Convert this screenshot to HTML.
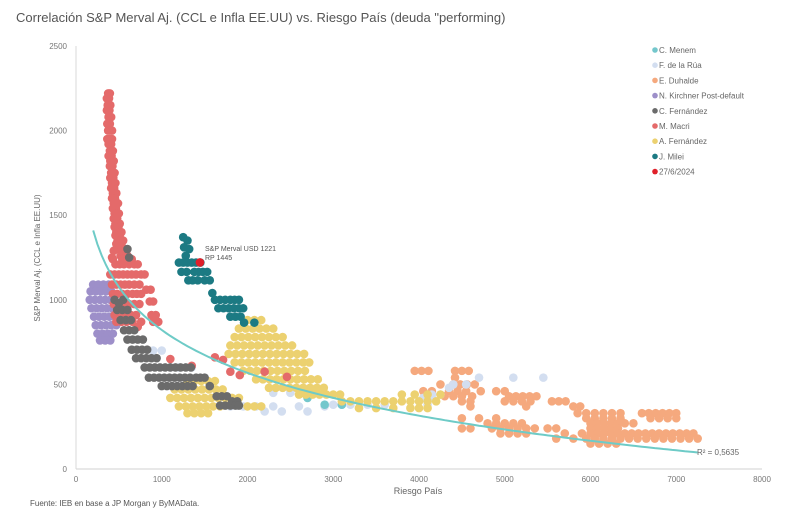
<!DOCTYPE html>
<html><head><meta charset="utf-8"><style>
body{margin:0;background:#fff;width:800px;height:518px;overflow:hidden;font-family:"Liberation Sans",sans-serif}
svg text{font-family:"Liberation Sans",sans-serif}
</style></head><body>
<svg id="chart" width="800" height="518">
<text x="16" y="22" font-size="13" fill="#555">Correlación S&amp;P Merval Aj. (CCL e Infla EE.UU) vs. Riesgo País (deuda "performing)</text>
<g id="axes"></g><g id="marks"></g><g id="legend"></g>
<text x="40" y="258" font-size="8" fill="#666" text-anchor="middle" transform="rotate(-90 40 258)">S&amp;P Merval Aj. (CCL e Infla EE.UU)</text>
<text x="418" y="494" font-size="9" fill="#666" text-anchor="middle">Riesgo País</text>
<text x="30" y="506" font-size="8" fill="#555">Fuente: IEB en base a JP Morgan y ByMAData.</text>
</svg>
<script>
const xTicks=[0,1000,2000,3000,4000,5000,6000,7000,8000];
const yTicks=[0,500,1000,1500,2000,2500];
const seriesNames=["C. Menem","F. de la Rúa","E. Duhalde","N. Kirchner Post-default","C. Fernández","M. Macri","A. Fernández","J. Milei","27/6/2024"];
const seriesColors=["#74c7cc","#d3def0","#f5a97e","#9d8fc9","#6b6b6b","#e46a6a","#ecd170","#1c7a83","#e0202a"];
// each row = [Merval, RP1, RP2, ...]
const menemRows=[[420,2700],[380,2900,3100]];
const delaruaRows=[[540,4700,5100,5450],[500,4400,4550],[480,4350],[440,4150,4250],[420,4050,4150],[380,3000,3100,3200,3400,3600,4100],[450,2300,2500,2700],[600,1100,1200,1350],[700,900,1000],[370,1800,1950,2100,2300,2600,2900],[340,2200,2400,2700]];
const duhaldeRows=[[580,3950,4030,4110,4420,4500,4580],[540,4420],[500,4250,4400,4480,4560,4650],[460,4050,4150,4350,4450,4550,4720,4900,5000],[430,4300,4400,4500,4620,5050,5130,5210,5290,5370],[400,4500,4600,5000,5100,5200,5300,5550,5630,5710],[370,4600,5250,5800,5880],[330,5850,5950,6050,6150,6250,6350,6600,6680,6760,6840,6920,7000],[300,4500,4700,4900,5950,6050,6150,6250,6350,6700,6800,6900,7000],[270,4800,4900,5000,5100,5200,6000,6080,6160,6240,6320,6400,6500],[240,4500,4600,4850,4950,5050,5150,5250,5350,5500,5600,6000,6080,6160,6240,6320],[210,4950,5050,5150,5250,5700,5900,6000,6080,6160,6240,6320,6400,6480,6560,6640,6720,6800,6880,6960,7040,7120,7200],[180,5600,5800,5950,6050,6150,6250,6350,6450,6550,6650,6750,6850,6950,7050,7150,7250],[150,6000,6100,6200,6300]];
const kirchnerRows=[[1090,200,260,320,380],[1050,170,230,290,350,410],[1000,160,220,280,340,400],[950,180,240,300,360,420],[900,210,270,330,390,450],[850,230,290,350,410,470],[800,250,310,370,430],[760,280,340,400]];
const macriRows=[[2220,375,395],[2190,385,360],[2150,370,400],[2120,390,360],[2080,380,410],[2040,395,365],[2000,375,400,420],[1950,390,420,365],[1920,410,380],[1880,395,430],[1850,415,380],[1820,400,440],[1790,425,395],[1750,410,450],[1720,435,400],[1690,420,460],[1660,445,410],[1630,430,470],[1600,455,420],[1570,440,490],[1540,465,430],[1510,450,500],[1480,480,440],[1450,460,510],[1430,495,450],[1400,470,530],[1380,510,460],[1350,485,550],[1330,530,470],[1300,500,570],[1290,550,440],[1260,520,600],[1250,575,420],[1240,430,540,600,650],[1210,460,510,560,620,680,720],[1150,400,450,500,550,600,650,700,760,800],[1090,420,470,520,570,620,680,740],[1060,820,870],[1035,430,480,540,600,660,710,760],[990,860,900],[975,440,500,560,620,680,740],[910,450,510,570,640,700,880,930],[870,470,530,590,660,760,900,960],[840,720],[660,1620],[645,1715],[575,1800,2200],[555,1910],[545,2460],[650,1100],[610,1350]];
const cfRows=[[1300,600],[1250,620],[1000,450,550],[980,500],[940,480,540,600],[880,520,580,640],[820,560,620,680],[765,600,660,720,780],[705,650,710,770,830],[655,700,760,820,880,940],[600,800,860,920,980,1040,1100,1160,1220,1280,1340],[540,850,910,970,1030,1090,1150,1210,1270,1330,1400,1450,1500],[490,1000,1060,1120,1180,1240,1300,1360,1560],[430,1640,1700,1760],[400,1820,1880],[375,1680,1740,1800,1860,1900]];
const afRows=[[880,2000,2080,2160],[830,1900,1980,2060,2140,2220,2300],[780,1850,1930,2010,2090,2170,2250,2330,2410],[730,1800,1880,1960,2040,2120,2200,2280,2360,2440,2520],[680,1780,1860,1940,2020,2100,2180,2260,2340,2420,2500,2580,2660],[630,1850,1930,2010,2090,2170,2250,2330,2410,2490,2570,2650,2720],[580,1950,2030,2110,2190,2270,2350,2430,2510,2590,2670],[530,2100,2180,2260,2340,2420,2500,2580,2660,2740,2820],[480,2250,2330,2410,2490,2570,2650,2730,2810,2890],[440,2600,2680,2760,2840,2920,3000,3080],[520,1300,1380,1460,1540,1620],[470,1150,1230,1310,1390,1470,1550,1630,1710],[420,1100,1180,1260,1340,1420,1500,1580,1660,1740,1820,1900],[370,1200,1280,1360,1440,1520,1600,1680,2000,2080,2160],[330,1300,1380,1460,1540],[400,3100,3200,3300,3400,3500,3600,3700,3800,3900,4000,4100,4200],[360,3300,3500,3700,3900,4000,4100],[440,3800,3950,4100,4250]];
const mileiRows=[[1370,1250],[1350,1300],[1310,1260],[1300,1320],[1260,1280],[1220,1200,1250,1300,1350,1400,1450],[1165,1230,1290,1380,1430,1480,1530],[1115,1310,1360,1420,1500,1560],[1040,1590],[1000,1620,1680,1740,1800,1850,1900],[950,1660,1720,1780,1840,1900,1950],[900,1800,1860,1920],[865,1960,2080]];
const todayRows=[[1221,1445]];
const trendA=1410, trendB=-365.5, trendX0=200, trendX1=7250;
const NS="http://www.w3.org/2000/svg";
const X0=76,X1=762,Y0=469,Y1=46;
function sx(v){return X0+v*(X1-X0)/8000;}
function sy(v){return Y0-v*(Y0-Y1)/2500;}
function mk(tag,attrs,parent){const e=document.createElementNS(NS,tag);for(const k in attrs)e.setAttribute(k,attrs[k]);parent.appendChild(e);return e;}
const axes=document.getElementById('axes'),marks=document.getElementById('marks'),legend=document.getElementById('legend');
const ax=mk('line',{x1:X0,y1:Y0,x2:X1,y2:Y0,stroke:'#d0d0d0','stroke-width':1},axes);

const ay=mk('line',{x1:X0,y1:Y0,x2:X0,y2:Y1,stroke:'#d8d8d8','stroke-width':1},axes);

xTicks.forEach(t=>{const e=mk('text',{x:sx(t),y:482,'font-size':8,fill:'#777','text-anchor':'middle'},axes);e.textContent=t;

});
yTicks.forEach(t=>{const e=mk('text',{x:67,y:sy(t)+3,'font-size':8,fill:'#777','text-anchor':'end'},axes);e.textContent=t;

});
const allRows=[menemRows,delaruaRows,duhaldeRows,kirchnerRows,cfRows,macriRows,afRows,mileiRows];
const drawOrder=[2,1,0,6,3,5,4,7];
drawOrder.forEach(si=>{const g=mk('g',{},marks);


allRows[si].forEach(r=>{for(let i=1;i<r.length;i++){const c=mk('circle',{cx:sx(r[i]),cy:sy(r[0]),r:4.3,fill:seriesColors[si]},g);

}});});
let d='';for(let x=trendX0;x<=trendX1;x+=50){const y=trendA+trendB*Math.log(x/trendX0);d+=(d?'L':'M')+sx(x).toFixed(1)+','+sy(y).toFixed(1);}
const tl=mk('path',{d:d,fill:'none',stroke:'#6ecbc7','stroke-width':2},marks);


todayRows.forEach(r=>{const c=mk('circle',{cx:sx(r[1]),cy:sy(r[0]),r:4.3,fill:seriesColors[8]},marks);

});
const l1=mk('text',{x:205,y:251,'font-size':7,fill:'#555'},marks);l1.textContent='S&P Merval USD 1221';


const l2=mk('text',{x:205,y:260,'font-size':7,fill:'#555'},marks);l2.textContent='RP 1445';


const r2=mk('text',{x:697,y:455,'font-size':8,fill:'#666'},marks);r2.textContent='R² = 0,5635';


seriesNames.forEach((n,i)=>{const g=mk('g',{},legend);


const y=50+i*15.2;mk('circle',{cx:655,cy:y,r:2.8,fill:seriesColors[i]},g);
const t=mk('text',{x:659,y:y+3,'font-size':8,fill:'#666'},g);t.textContent=n;});
</script>
</body></html>
